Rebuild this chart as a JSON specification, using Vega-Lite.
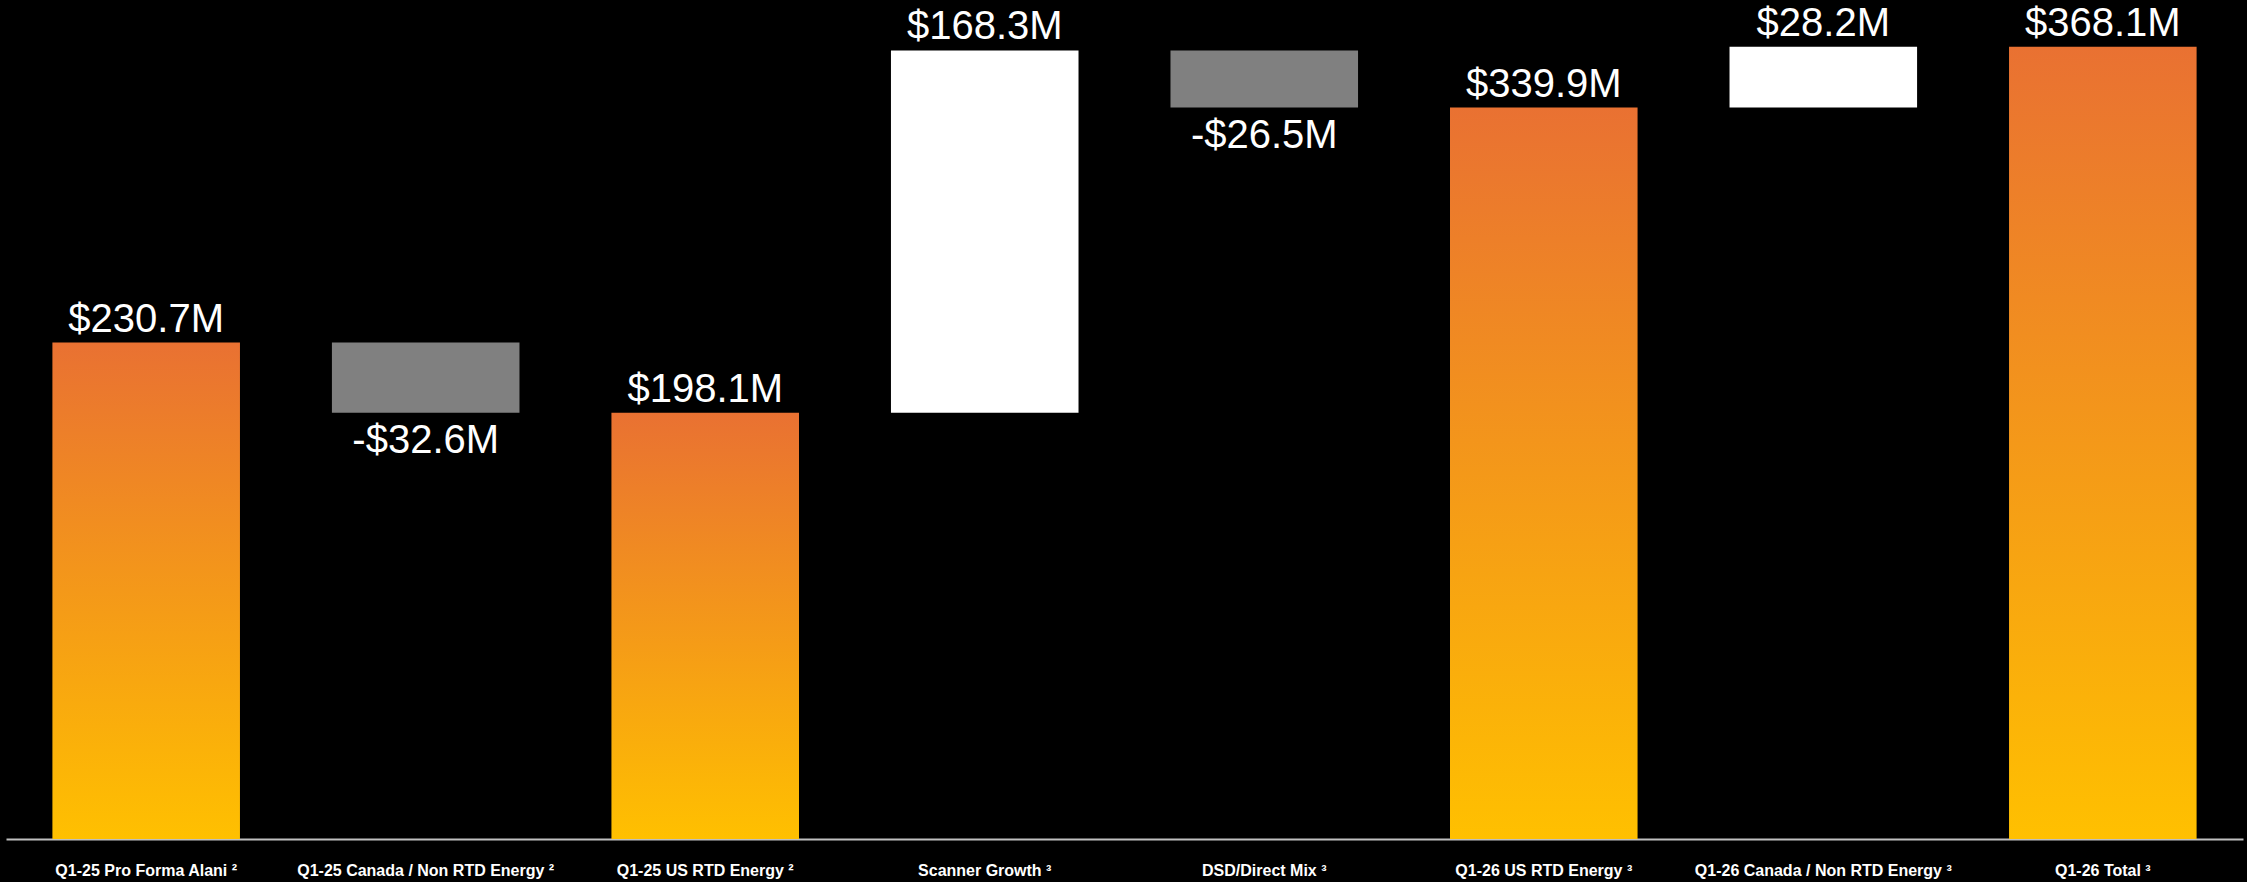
{
  "$schema": "https://vega.github.io/schema/vega-lite/v6.json",
  "width": 2237,
  "height": 835,
  "autosize": {"type": "none"},
  "padding": {"left": 6, "top": 4, "right": 4, "bottom": 43},
  "background": "#000000",
  "config": {
    "view": {"stroke": null},
    "font": "Liberation Sans"
  },
  "data": {
    "values": [
      {"category": "Q1-25 Pro Forma Alani  ²", "start": 0, "end": 230.7, "type": "total", "label": "$230.7M"},
      {"category": "Q1-25 Canada / Non RTD Energy  ²", "start": 230.7, "end": 198.1, "type": "decrease", "label": "-$32.6M"},
      {"category": "Q1-25 US RTD Energy  ²", "start": 0, "end": 198.1, "type": "total", "label": "$198.1M"},
      {"category": "Scanner Growth  ³", "start": 198.1, "end": 366.4, "type": "increase", "label": "$168.3M"},
      {"category": "DSD/Direct Mix  ³", "start": 366.4, "end": 339.9, "type": "decrease", "label": "-$26.5M"},
      {"category": "Q1-26 US RTD Energy  ³", "start": 0, "end": 339.9, "type": "total", "label": "$339.9M"},
      {"category": "Q1-26 Canada / Non RTD Energy  ³", "start": 339.9, "end": 368.1, "type": "increase", "label": "$28.2M"},
      {"category": "Q1-26 Total  ³", "start": 0, "end": 368.1, "type": "total", "label": "$368.1M"}
    ]
  },
  "encoding": {
    "x": {
      "field": "category",
      "type": "nominal",
      "sort": [
        "Q1-25 Pro Forma Alani  ²",
        "Q1-25 Canada / Non RTD Energy  ²",
        "Q1-25 US RTD Energy  ²",
        "Scanner Growth  ³",
        "DSD/Direct Mix  ³",
        "Q1-26 US RTD Energy  ³",
        "Q1-26 Canada / Non RTD Energy  ³",
        "Q1-26 Total  ³"
      ],
      "scale": {"paddingInner": 0.329, "paddingOuter": 0.166},
      "axis": {
        "title": null,
        "labelAngle": 0,
        "labelColor": "#FFFFFF",
        "labelFont": "Liberation Sans",
        "labelFontWeight": "bold",
        "labelFontSize": 16,
        "labelPadding": 23,
        "ticks": false,
        "tickSize": 0,
        "domainColor": "#BFBFBF",
        "domainWidth": 2,
        "labelLimit": 400
      }
    }
  },
  "layer": [
    {
      "transform": [{"filter": "datum.type === 'total'"}],
      "mark": {
        "type": "bar",
        "color": {
          "gradient": "linear",
          "x1": 0, "y1": 0, "x2": 0, "y2": 1,
          "stops": [
            {"offset": 0, "color": "#E97132"},
            {"offset": 1, "color": "#FFC000"}
          ]
        }
      },
      "encoding": {
        "y": {"field": "start", "type": "quantitative", "scale": {"domain": [0, 388], "nice": false}, "axis": null},
        "y2": {"field": "end"}
      }
    },
    {
      "transform": [{"filter": "datum.type === 'decrease'"}],
      "mark": {"type": "bar", "color": "#808080"},
      "encoding": {
        "y": {"field": "start", "type": "quantitative"},
        "y2": {"field": "end"}
      }
    },
    {
      "transform": [{"filter": "datum.type === 'increase'"}],
      "mark": {"type": "bar", "color": "#FFFFFF"},
      "encoding": {
        "y": {"field": "start", "type": "quantitative"},
        "y2": {"field": "end"}
      }
    },
    {
      "transform": [{"filter": "datum.type !== 'decrease'"}],
      "mark": {"type": "text", "color": "#FFFFFF", "fontSize": 40, "font": "Liberation Sans", "baseline": "alphabetic", "dy": -11},
      "encoding": {
        "y": {"field": "end", "type": "quantitative"},
        "text": {"field": "label"}
      }
    },
    {
      "transform": [{"filter": "datum.type === 'decrease'"}],
      "mark": {"type": "text", "color": "#FFFFFF", "fontSize": 40, "font": "Liberation Sans", "baseline": "alphabetic", "dy": 40},
      "encoding": {
        "y": {"field": "end", "type": "quantitative"},
        "text": {"field": "label"}
      }
    }
  ]
}
